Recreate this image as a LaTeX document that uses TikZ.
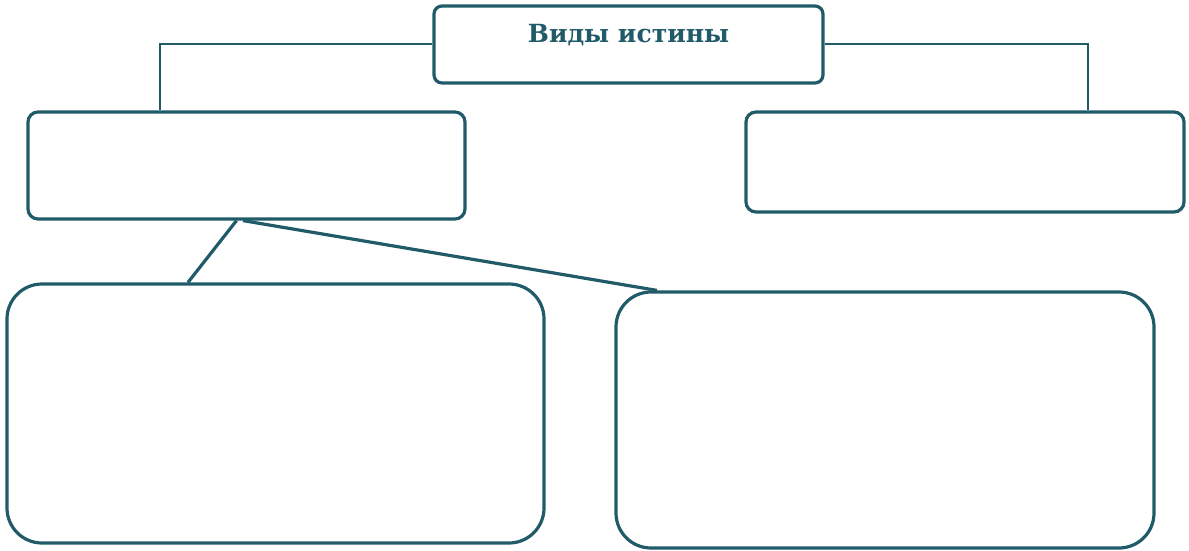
\documentclass[tikz,border=0pt]{standalone}
\usepackage{fontspec}
\setmainfont{DejaVu Serif}
\definecolor{vidcol}{RGB}{33,90,105}
\begin{document}
\begin{tikzpicture}[x=1pt,y=-1pt,
		box/.style={draw=vidcol, line width=3.2pt, rounded corners=#1, inner sep=0pt},
		link/.style={draw=vidcol, line width=#1}]
		\useasboundingbox (0,0) rectangle (1189,551);
		\node[box=8pt, minimum width=389pt, minimum height=77pt, text=vidcol, font=\bfseries\fontsize{25}{25}\selectfont, text height=18pt, text depth=21pt] (vidy) at (628.5,44.5) {Виды истины};
		\node[box=10pt, minimum width=437pt, minimum height=107pt] (left) at (246.5,165.5) {};
		\node[box=10pt, minimum width=438pt, minimum height=100pt] (right) at (965,162) {};
		\node[box=35pt, minimum width=537pt, minimum height=259pt] (lowleft) at (275.5,413.5) {};
		\node[box=35pt, minimum width=538pt, minimum height=256pt] (lowright) at (885,420) {};
		%
		\draw[link=2pt] (vidy.west) -| ([xshift=-86.5]left.north);
		\draw[link=2pt] (vidy.east) -| ([xshift=123]right.north);
		\draw[link=3.2pt] ([xshift=-10]left.south) -- ([xshift=-87.5]lowleft.north);
		\draw[link=3.2pt] ([xshift=-3.5]left.south) -- ([xshift=-228]lowright.north);
	\end{tikzpicture}
\end{document}
